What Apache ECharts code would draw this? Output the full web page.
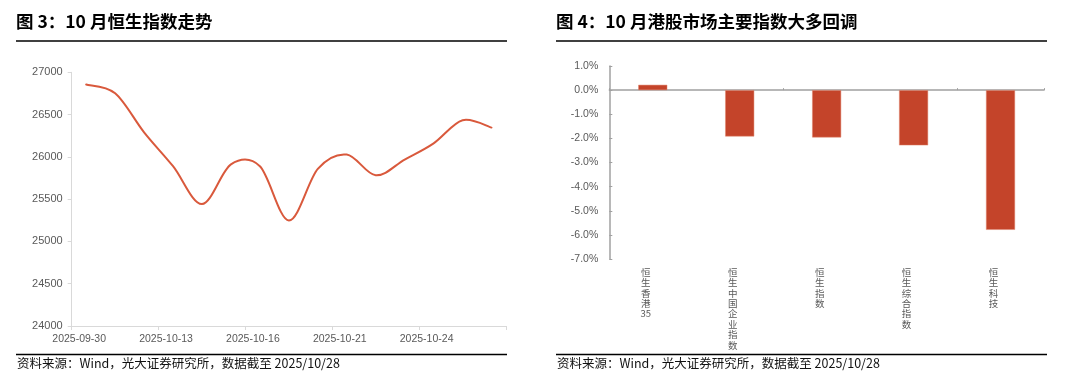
<!DOCTYPE html>
<html><head><meta charset="utf-8">
<script src="https://cdn.jsdelivr.net/npm/echarts@6/dist/echarts.min.js"></script>
<style>html,body{margin:0;padding:0;background:#fff;}#c{width:1080px;height:380px;}</style>
</head><body><div id="c"></div>
<script>
// Left chart: Hang Seng Index daily close, Oct 2025
const hsiDates = ['2025-09-30','2025-10-09','2025-10-10','2025-10-13','2025-10-14','2025-10-15','2025-10-16','2025-10-17','2025-10-20','2025-10-21','2025-10-22','2025-10-23','2025-10-24','2025-10-27','2025-10-28'];
const hsiClose = [26855.56, 26752.59, 26290.32, 25889.48, 25441.35, 25910.60, 25888.51, 25247.10, 25858.83, 26027.55, 25781.77, 25967.98, 26160.15, 26433.70, 26346.14];
// Right chart: monthly change of main HK indices (%)
const idxNames = ['恒生香港35','恒生中国企业指数','恒生指数','恒生综合指数','恒生科技'];
const idxChange = [0.22, -1.92, -1.96, -2.29, -5.79];

const title1 = '图 3：10 月恒生指数走势';
const title2 = '图 4：10 月港股市场主要指数大多回调';
const source = '资料来源：Wind，光大证券研究所，数据截至 2025/10/28';

const numFont = '"Liberation Sans", Arial, "Noto Sans CJK SC", sans-serif';
const cjkFont = '"Noto Sans CJK SC", "Liberation Sans", sans-serif';
const labelColor = '#595959';
const lineColor = '#D9593C';

const chart = echarts.init(document.getElementById('c'), null, {renderer: 'canvas'});

function hdr(x, txt) {
  return [
    {type: 'text', left: x - 1, top: 13, style: {text: txt, font: 'bold 17.5px ' + cjkFont, fill: '#000'}},
    {type: 'line', shape: {x1: x - 1, y1: 41, x2: x + 490, y2: 41}, style: {stroke: '#000', lineWidth: 1.5}},
    {type: 'line', shape: {x1: x - 1, y1: 354.5, x2: x + 490, y2: 354.5}, style: {stroke: '#000', lineWidth: 1.5}},
    {type: 'text', left: x, top: 357, style: {text: source, font: '12.5px ' + cjkFont, fill: '#111'}}
  ];
}

// Catmull-Rom style smooth curve through the data points (Excel-like smoothing)
function renderSmooth(params, api) {
  if (params.dataIndex !== 0) return null;
  const pts = hsiClose.map((v, i) => api.coord([i, v]));
  const n = pts.length;
  let d = 'M' + pts[0][0] + ' ' + pts[0][1];
  for (let i = 0; i < n - 1; i++) {
    const p0 = pts[Math.max(i - 1, 0)], p1 = pts[i], p2 = pts[i + 1], p3 = pts[Math.min(i + 2, n - 1)];
    const c1x = p1[0] + (p2[0] - p0[0]) / 6, c1y = p1[1] + (p2[1] - p0[1]) / 6;
    const c2x = p2[0] - (p3[0] - p1[0]) / 6, c2y = p2[1] - (p3[1] - p1[1]) / 6;
    d += ' C' + c1x + ' ' + c1y + ' ' + c2x + ' ' + c2y + ' ' + p2[0] + ' ' + p2[1];
  }
  return {
    type: 'path',
    shape: {pathData: d},
    style: {fill: null, stroke: lineColor, lineWidth: 2, lineJoin: 'round', lineCap: 'round'}
  };
}

chart.setOption({
  animation: false,
  backgroundColor: '#fff',
  graphic: [].concat(hdr(17, title1), hdr(557, title2)),
  grid: [
    {left: 71.7, right: 574, top: 72.3, bottom: 54, containLabel: false},
    {left: 609.3, right: 36, top: 66, bottom: 121, containLabel: false}
  ],
  xAxis: [
    {
      gridIndex: 0, type: 'category', data: hsiDates, boundaryGap: true,
      axisLine: {lineStyle: {color: '#D9D9D9', width: 1}},
      axisTick: {show: true, length: 4, lineStyle: {color: '#D9D9D9'}},
      axisLabel: {interval: 2, fontSize: 10.5, fontFamily: numFont, color: labelColor, margin: 8, padding: [0, 14, 0, 0]}
    },
    {
      gridIndex: 1, type: 'category', data: idxNames, boundaryGap: true, position: 'bottom',
      axisLine: {show: false, onZero: false},
      axisTick: {show: false},
      axisLabel: {
        interval: 0, fontSize: 9.5, lineHeight: 10.4, fontFamily: cjkFont, color: labelColor, margin: 8,
        padding: [0, 14, 0, 0],
        formatter: v => v.match(/[0-9]+|./g).join('\n')
      }
    },
    {
      gridIndex: 1, type: 'category', data: idxNames, boundaryGap: true, position: 'top',
      axisLine: {show: true, onZero: true, lineStyle: {color: '#A0A0A0', width: 1.5}},
      axisTick: {show: true, inside: false, length: 2, lineStyle: {color: '#A0A0A0'}},
      axisLabel: {show: false}
    }
  ],
  yAxis: [
    {
      gridIndex: 0, type: 'value', min: 24000, max: 27000, interval: 500,
      splitLine: {show: false},
      axisLine: {show: true, lineStyle: {color: '#D9D9D9'}},
      axisTick: {show: true, length: 4, lineStyle: {color: '#D9D9D9'}},
      axisLabel: {fontSize: 11, fontFamily: numFont, color: labelColor, margin: 9, formatter: v => String(v)}
    },
    {
      gridIndex: 1, type: 'value', min: -7, max: 1, interval: 1,
      splitLine: {show: false},
      axisLine: {show: true, lineStyle: {color: '#A0A0A0', width: 1.5}},
      axisTick: {show: true, inside: true, length: 3, lineStyle: {color: '#A0A0A0'}},
      axisLabel: {fontSize: 10.5, fontFamily: numFont, color: labelColor, margin: 11, formatter: v => v.toFixed(1) + '%'}
    }
  ],
  series: [
    {
      type: 'custom', xAxisIndex: 0, yAxisIndex: 0, data: hsiClose,
      renderItem: renderSmooth, silent: true
    },
    {
      type: 'bar', xAxisIndex: 1, yAxisIndex: 1, data: idxChange, barWidth: 29,
      itemStyle: {color: '#C4442A', borderColor: '#E08870', borderWidth: 0.5}
    }
  ]
});
</script></body></html>
